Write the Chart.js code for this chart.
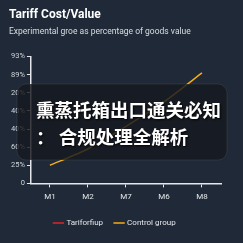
<!DOCTYPE html>
<html>
<head>
<meta charset="utf-8">
<script src="https://cdn.jsdelivr.net/npm/chart.js@4/dist/chart.umd.min.js"></script>
<style>
  html, body { margin: 0; padding: 0; background: #1f2937; }
  canvas { display: block; }
</style>
</head>
<body>
<canvas id="c" width="243" height="243"></canvas>
<script>
const categories = ["M1", "M2", "M7", "M6", "M8"];
const yTickLabels = ["0", "25%", "60%", "40%", "40%", "20%", "89%", "93%"];
const tariffValues = [null, null, null, null, null];
const controlValues = [1.0, 1.9, 3.15, 4.5, 6.1];
const overlayLines = ["熏蒸托箱出口通关必知", "： 合规处理全解析"];

const fontFam = "Roboto, 'DejaVu Sans', sans-serif";

const overlayPlugin = {
  id: 'overlay',
  afterDraw(chart) {
    const ctx = chart.ctx;
    ctx.save();
    ctx.beginPath();
    ctx.roundRect(17, 84, 210, 76, 9);
    ctx.fillStyle = 'rgba(22, 24, 30, 0.82)';
    ctx.fill();
    ctx.strokeStyle = 'rgba(255,255,255,0.08)';
    ctx.lineWidth = 1;
    ctx.stroke();
    ctx.font = "bold 18.5px 'Noto Sans CJK SC', sans-serif";
    ctx.fillStyle = '#ffffff';
    ctx.textAlign = 'left';
    ctx.textBaseline = 'middle';
    ctx.shadowColor = 'rgba(0,0,0,0.9)';
    ctx.shadowBlur = 2;
    ctx.shadowOffsetX = 1;
    ctx.shadowOffsetY = 1;
    ctx.fillText(overlayLines[0], 36, 110);
    ctx.fillText(overlayLines[1], 36, 137);
    ctx.restore();
  }
};

new Chart(document.getElementById('c'), {
  type: 'line',
  data: {
    labels: categories,
    datasets: [
      { label: 'Tariforfiup', data: tariffValues, borderColor: '#e0242b', backgroundColor: '#e0242b', borderWidth: 1.5, pointRadius: 0 },
      { label: 'Control group', data: controlValues, borderColor: '#f5ad14', backgroundColor: '#f5ad14', borderWidth: 1.5, pointRadius: 0, tension: 0.2 }
    ]
  },
  plugins: [overlayPlugin],
  options: {
    responsive: false, animation: false,
    layout: { padding: { left: 9, right: 22, top: 8, bottom: 6 } },
    plugins: {
      title: { display: true, text: 'Tariff Cost/Value', align: 'start', color: '#ffffff',
        font: { family: fontFam, size: 12, weight: 'bold' }, padding: { top: 0, bottom: 4 } },
      subtitle: { display: true, text: 'Experimental groe as percentage of goods value', align: 'start', color: '#d8dde4',
        font: { family: fontFam, size: 8.5 }, padding: { top: 0, bottom: 20 } },
      legend: { display: true, position: 'bottom',
        labels: { color: '#e5e7eb', font: { family: fontFam, size: 8 }, usePointStyle: true, pointStyle: 'line', boxWidth: 8, padding: 12 } },
      tooltip: { enabled: false }
    },
    scales: {
      x: {
        offset: true,
        grid: { display: true, drawOnChartArea: false, color: '#e5e7eb', tickLength: 4 },
        border: { display: true, color: '#e5e7eb', width: 1.5 },
        ticks: { color: '#e5e7eb', font: { family: fontFam, size: 8 }, padding: 5 }
      },
      y: {
        min: 0, max: 7,
        grid: { display: true, drawOnChartArea: false, color: '#e5e7eb', tickLength: 4 },
        border: { display: true, color: '#e5e7eb', width: 1.5 },
        ticks: { stepSize: 1, color: '#d1d5db', font: { family: fontFam, size: 7.5 }, padding: 2,
          callback: (v) => yTickLabels[v] }
      }
    }
  }
});
</script>
</body>
</html>
